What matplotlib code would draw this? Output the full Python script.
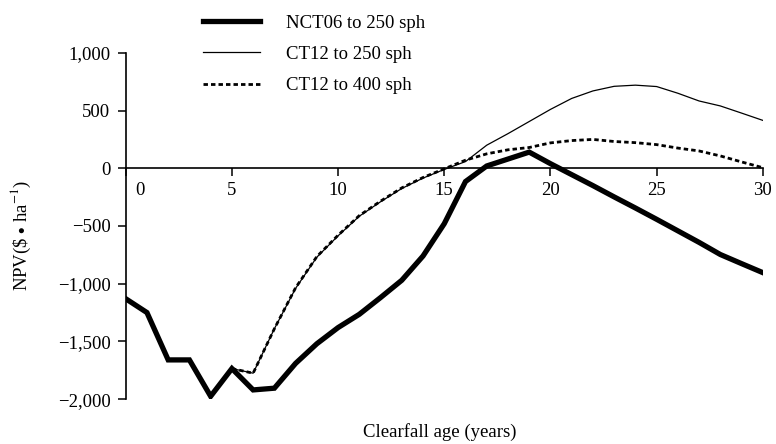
#!/usr/bin/env python3
# NPV vs clearfall age for three thinning regimes.
import numpy as np
import matplotlib
matplotlib.use("Agg")
import matplotlib.pyplot as plt
from matplotlib.transforms import ScaledTranslation

# --- data ---
years_nct = list(range(0, 31))
npv_nct06_250 = [-1130, -1250, -1660, -1660, -1975, -1735, -1920, -1905, -1690, -1520,
                 -1380, -1265, -1120, -970, -760, -480, -115, 20, 80, 140,
                 40, -55, -150, -248, -344, -442, -542, -642, -747, -826, -904]

years_ct = list(range(5, 31))
npv_ct12_250 = [-1735, -1775, -1390, -1040, -770, -585, -415, -290, -175, -85,
                -10, 58, 200, 300, 405, 510, 605, 670, 710, 720,
                708, 650, 583, 540, 478, 415]
npv_ct12_400 = [-1735, -1775, -1390, -1035, -765, -580, -410, -285, -170, -80,
                -5, 70, 125, 160, 180, 220, 240, 250, 232, 222,
                205, 175, 150, 107, 55, 5]

labels = ["NCT06 to 250 sph", "CT12 to 250 sph", "CT12 to 400 sph"]
x_ticks = [0, 5, 10, 15, 20, 25, 30]
y_ticks = [-2000, -1500, -1000, -500, 0, 500, 1000]

plt.rcParams["font.family"] = ["Liberation Serif", "DejaVu Serif"]
plt.rcParams["mathtext.fontset"] = "stix"
FS = 13.5

fig = plt.figure(figsize=(7.76, 4.44), dpi=100)
ax = fig.add_axes([0.162, 0.101, 0.821, 0.780])

l1, = ax.plot(years_nct, npv_nct06_250, color="black", lw=3.8, solid_joinstyle="miter")
l2, = ax.plot(years_ct, npv_ct12_250, color="black", lw=0.9)
l3, = ax.plot(years_ct, npv_ct12_400, color="black", lw=2.0, ls=(0, (1.6, 1.1)))

ax.set_xlim(0, 30)
ax.set_ylim(-2000, 1000)
ax.spines["top"].set_visible(False)
ax.spines["right"].set_visible(False)
ax.spines["bottom"].set_position(("data", 0))
ax.spines["left"].set_linewidth(1.2)
ax.spines["bottom"].set_linewidth(1.2)

ax.set_xticks(x_ticks)
ax.set_xticklabels([str(v) for v in x_ticks])
ax.set_yticks(y_ticks)
ax.set_yticklabels([f"{v:,}".replace("-", "\u2212") for v in y_ticks])
ax.tick_params(axis="both", direction="out", length=6, width=1.1, labelsize=FS)
ax.tick_params(axis="x", pad=4)
ax.tick_params(axis="y", pad=5)

# nudge the "0" label off the y spine
lab0 = ax.get_xticklabels()[0]
lab0.set_transform(lab0.get_transform() + ScaledTranslation(0.14, 0, fig.dpi_scale_trans))

fig.text(0.567, 0.027, "Clearfall age (years)", ha="center", va="center", fontsize=FS)
fig.text(0.027, 0.47, r"NPV(\$ $\bullet$ ha$^{-1}$)", ha="center", va="center",
         rotation=90, fontsize=FS)

fig.legend([l1, l2, l3], labels, loc="upper left", bbox_to_anchor=(0.262, 0.967),
           frameon=False, fontsize=FS, handlelength=3.0, handletextpad=1.4,
           labelspacing=0.75, borderpad=0, borderaxespad=0)

fig.savefig("out.png", dpi=100)
